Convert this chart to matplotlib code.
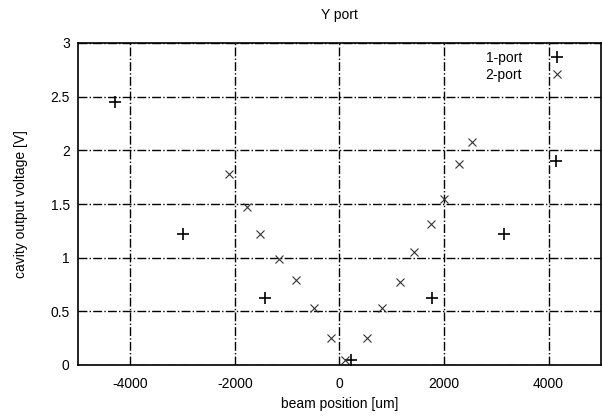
import matplotlib
matplotlib.use("Agg")
import matplotlib.pyplot as plt

plt.rcParams['font.family'] = ['Liberation Sans', 'DejaVu Sans']
plt.rcParams['axes.unicode_minus'] = False

title = "Y port"
xlabel = "beam position [um]"
ylabel = "cavity output voltage [V]"

one_port_x = [-4300, -3000, -1430, 220, 1780, 3150, 4140]
one_port_y = [2.45, 1.22, 0.62, 0.05, 0.62, 1.22, 1.90]

two_port_x = [-2120, -1770, -1510, -1150, -830, -490, -160, 110, 520, 820, 1150, 1420, 1760, 2000, 2290, 2540]
two_port_y = [1.78, 1.47, 1.22, 0.99, 0.79, 0.53, 0.25, 0.05, 0.25, 0.53, 0.77, 1.05, 1.31, 1.55, 1.87, 2.08]

xticks = [-4000, -2000, 0, 2000, 4000]
yticks = [0, 0.5, 1, 1.5, 2, 2.5, 3]
yticklabels = ["0", "0.5", "1", "1.5", "2", "2.5", "3"]

fig = plt.figure(figsize=(6.02, 4.16), dpi=100)
ax = fig.add_axes([78/602, 1-365/416, (602-78)/602 - 0.002, (365-43)/416])

ax.plot(one_port_x, one_port_y, linestyle='none', marker='+', color='black',
        markersize=8, markeredgewidth=1.2, label='1-port')
ax.plot(two_port_x, two_port_y, linestyle='none', marker='x', color='#333333',
        markersize=6, markeredgewidth=0.8, label='2-port')

ax.set_xlim(-5000, 5000)
ax.set_ylim(0, 3)
ax.set_xticks(xticks)
ax.set_yticks(yticks)
ax.set_yticklabels(yticklabels)
ax.tick_params(axis='x', length=0, labelsize=10, pad=9)
ax.tick_params(axis='y', length=0, labelsize=10, pad=6)
ax.grid(True, color='black', linestyle='-.', linewidth=1.0)
for s in ax.spines.values():
    s.set_linewidth(1.2)
    s.set_color('black')

ax.set_title(title, fontsize=10, pad=17)
ax.set_xlabel(xlabel, fontsize=10, labelpad=4)
ax.set_ylabel(ylabel, fontsize=10, labelpad=16)

leg = ax.legend(loc='upper right', bbox_to_anchor=(0.945, 1.0), frameon=False,
                markerfirst=False, fontsize=10, handlelength=1.0,
                handletextpad=2.0, labelspacing=0.2, borderaxespad=0.2)

fig.savefig("out.png", dpi=100)
